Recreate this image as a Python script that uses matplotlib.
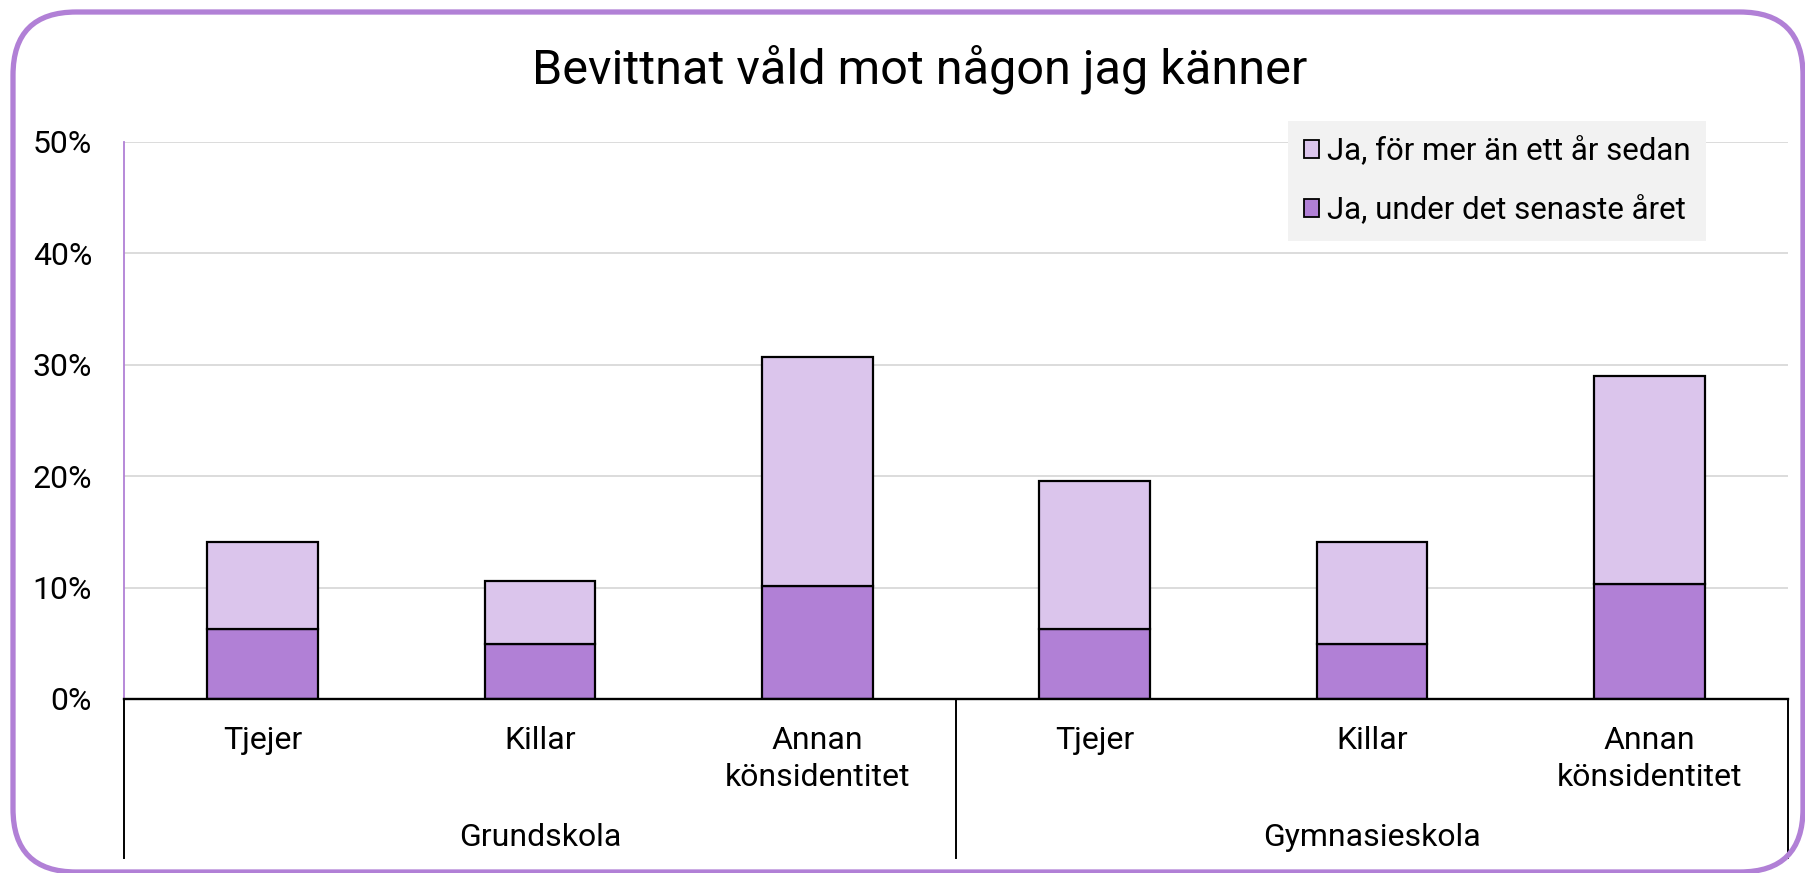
import matplotlib.pyplot as plt
from matplotlib.patches import Patch, FancyBboxPatch
from matplotlib.ticker import PercentFormatter

plt.rcParams['font.family'] = ['Roboto', 'DejaVu Sans']

# data
categories = ['Tjejer', 'Killar', 'Annan\nkönsidentitet',
              'Tjejer', 'Killar', 'Annan\nkönsidentitet']
groups = ['Grundskola', 'Gymnasieskola']
senaste_aret = [6.3, 4.9, 10.1, 6.3, 4.9, 10.3]
mer_an_ett_ar = [7.8, 5.7, 20.6, 13.3, 9.2, 18.7]
series_names = ['Ja, för mer än ett år sedan', 'Ja, under det senaste året']

light = '#dbc5ec'
dark = '#b180d6'
W, H = 1806, 873

fig = plt.figure(figsize=(W / 100, H / 100), dpi=100)

# rounded purple frame around the whole chart
frame = FancyBboxPatch((13 / W, 1 / H), (1803 - 13) / W, (861 - 1) / H,
                       boxstyle='round,pad=0,rounding_size=0.035',
                       transform=fig.transFigure, facecolor='none',
                       edgecolor=dark, linewidth=3.8, mutation_aspect=W / H,
                       zorder=10)
fig.patches.append(frame)

left, right, top, bottom = 124, 1788, 141.7, 699
ax = fig.add_axes([left / W, 1 - bottom / H, (right - left) / W, (bottom - top) / H])
ax.set_facecolor('none')

x = range(len(categories))
ax.bar(x, senaste_aret, width=0.4, color=dark, edgecolor='black', linewidth=1.6, zorder=3)
ax.bar(x, mer_an_ett_ar, width=0.4, bottom=senaste_aret, color=light,
       edgecolor='black', linewidth=1.6, zorder=3)

ax.set_xlim(-0.5, len(categories) - 0.5)
ax.set_ylim(0, 50)
ax.set_yticks(range(0, 51, 10))
ax.yaxis.set_major_formatter(PercentFormatter(decimals=0))
ax.tick_params(axis='y', length=0, pad=23, labelsize=23)
ax.set_xticks([])
ax.grid(axis='y', color='#d9d9d9', linewidth=1.3, zorder=0)

for s in ['top', 'right']:
    ax.spines[s].set_visible(False)
ax.spines['left'].set_color(dark)
ax.spines['left'].set_linewidth(1.3)
ax.spines['bottom'].set_color('black')
ax.spines['bottom'].set_linewidth(1.7)
ax.spines['bottom'].set_zorder(4)

# multi-level category axis below the plot
ph = bottom - top
def ay(py):
    return (bottom - py) / ph

trans = ax.get_xaxis_transform()
for xv in [-0.5, 2.5, 5.5]:
    ax.plot([xv, xv], [0, ay(858)], transform=trans, color='black',
            linewidth=1.4, clip_on=False)

for i, lab in enumerate(categories):
    ax.text(i, ay(726), lab, transform=trans, ha='center', va='top',
            fontsize=23, linespacing=1.35)

for g, name in enumerate(groups):
    ax.text(g * 3 + 1, ay(838), name, transform=trans, ha='center',
            va='center', fontsize=23)

fig.text(920 / W, 1 - 69 / H, 'Bevittnat våld mot någon jag känner',
         ha='center', va='center', fontsize=35)

handles = [Patch(facecolor=light, edgecolor='black', linewidth=1.3),
           Patch(facecolor=dark, edgecolor='black', linewidth=1.3)]
leg = ax.legend(handles, series_names, loc='upper left',
                bbox_to_anchor=(1288 / W, 1 - 121 / H), bbox_transform=fig.transFigure,
                borderaxespad=0, fontsize=22.5, frameon=True, fancybox=False,
                handlelength=0.5, handleheight=0.5, handletextpad=0.25,
                labelspacing=0.92, borderpad=0.5)
leg.get_frame().set_facecolor('#f2f2f2')
leg.get_frame().set_edgecolor('none')
leg.get_frame().set_alpha(1)

fig.savefig('out.png', dpi=100)
